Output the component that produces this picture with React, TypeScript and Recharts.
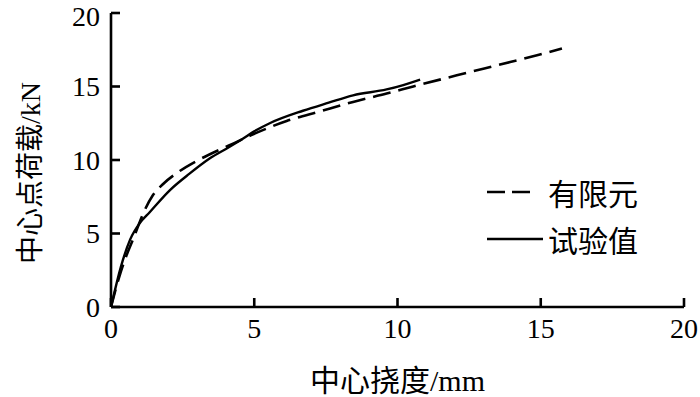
import React from "react";
import { LineChart, Line, XAxis, YAxis, Legend, Label } from "recharts";

// 有限元 (FEM) curve: deflection mm / load kN
const femX = [0, 0.28, 0.52, 0.8, 1.11, 1.46, 1.81, 2.4, 3.1, 3.9, 4.3, 4.96, 6.13, 7.29, 8.45, 9.62, 10.55, 12.07, 13.47, 14.87, 15.74];
const femY = [0, 2.0, 3.4, 4.75, 6.3, 7.6, 8.35, 9.25, 10.05, 10.8, 11.15, 11.75, 12.65, 13.3, 13.95, 14.52, 15.0, 15.76, 16.44, 17.12, 17.58];

// 试验值 (test) curve
const testX = [0, 0.34, 0.67, 1.0, 1.35, 2.05, 2.74, 3.44, 4.14, 4.6, 5.0, 5.54, 6.7, 7.6, 8.45, 9.62, 10.2, 10.79];
const testY = [0, 2.7, 4.6, 5.7, 6.45, 7.94, 9.07, 10.1, 10.9, 11.45, 11.95, 12.5, 13.35, 13.9, 14.4, 14.8, 15.1, 15.47];

const xTicks = [0, 5, 10, 15, 20];
const yTicks = [0, 5, 10, 15, 20];

const femData = femX.map((x, i) => ({ x, y: femY[i] }));
const testData = testX.map((x, i) => ({ x, y: testY[i] }));

const FONT = "'Liberation Serif', 'Noto Sans CJK SC', serif";

const renderLegend = (props: any) => {
  const { payload } = props;
  return (
    <div style={{ fontFamily: FONT, fontSize: 30, color: "#000" }}>
      {(payload || []).map((entry: any) => (
        <div key={entry.value} style={{ display: "flex", alignItems: "center", height: 47 }}>
          <svg width={58} height={10} style={{ marginRight: 3 }}>
            <line
              x1={0}
              y1={5}
              x2={entry.payload?.strokeDasharray ? 46 : 56}
              y2={5}
              stroke="#000"
              strokeWidth={2.6}
              strokeDasharray={entry.payload?.strokeDasharray ? "18 7" : undefined}
            />
          </svg>
          <span>{entry.value}</span>
        </div>
      ))}
    </div>
  );
};

export default function App() {
  return (
    <div style={{ background: "#fff", width: 700, height: 397 }}>
      <style>{`body{margin:0}`}</style>
      <LineChart width={700} height={397} margin={{ top: 13, right: 16, bottom: 0, left: 0 }}>
        <XAxis
          type="number"
          dataKey="x"
          domain={[0, 20]}
          ticks={xTicks}
          allowDataOverflow
          height={90}
          stroke="#000"
          strokeWidth={2.6}
          tickSize={-9}
          tickMargin={20}
          tick={{ fill: "#000", fontSize: 28, fontFamily: FONT }}
        >
          <Label
            value="中心挠度/mm"
            position="insideBottom"
            offset={6}
            style={{ fill: "#000", fontSize: 30, fontFamily: FONT }}
          />
        </XAxis>
        <YAxis
          type="number"
          dataKey="y"
          domain={[0, 20]}
          ticks={yTicks}
          width={111}
          stroke="#000"
          strokeWidth={2.6}
          tickSize={-9}
          tickMargin={20}
          tick={{ fill: "#000", fontSize: 28, fontFamily: FONT }}
        >
          <Label
            content={(p: any) => {
              const vb = p.viewBox || { x: 0, y: 0, width: 0, height: 0 };
              const cx = vb.x + 30;
              const cy = vb.y + vb.height / 2 + 13;
              return (
                <text
                  x={cx}
                  y={cy}
                  transform={`rotate(-90, ${cx}, ${cy})`}
                  textAnchor="middle"
                  dominantBaseline="central"
                  style={{ fill: "#000", fontSize: 28, fontFamily: FONT }}
                >
                  中心点荷载/kN
                </text>
              );
            }}
          />
        </YAxis>
        <Legend
          layout="vertical"
          align="center"
          verticalAlign="middle"
          content={renderLegend}
          wrapperStyle={{ position: "absolute", left: 487, top: 168, width: 190 }}
        />
        <Line
          data={femData}
          dataKey="y"
          name="有限元"
          type="monotone"
          stroke="#000"
          strokeWidth={2.6}
          strokeDasharray="18 8"
          dot={false}
          isAnimationActive={false}
        />
        <Line
          data={testData}
          dataKey="y"
          name="试验值"
          type="monotone"
          stroke="#000"
          strokeWidth={2.4}
          dot={false}
          isAnimationActive={false}
        />
      </LineChart>
    </div>
  );
}
